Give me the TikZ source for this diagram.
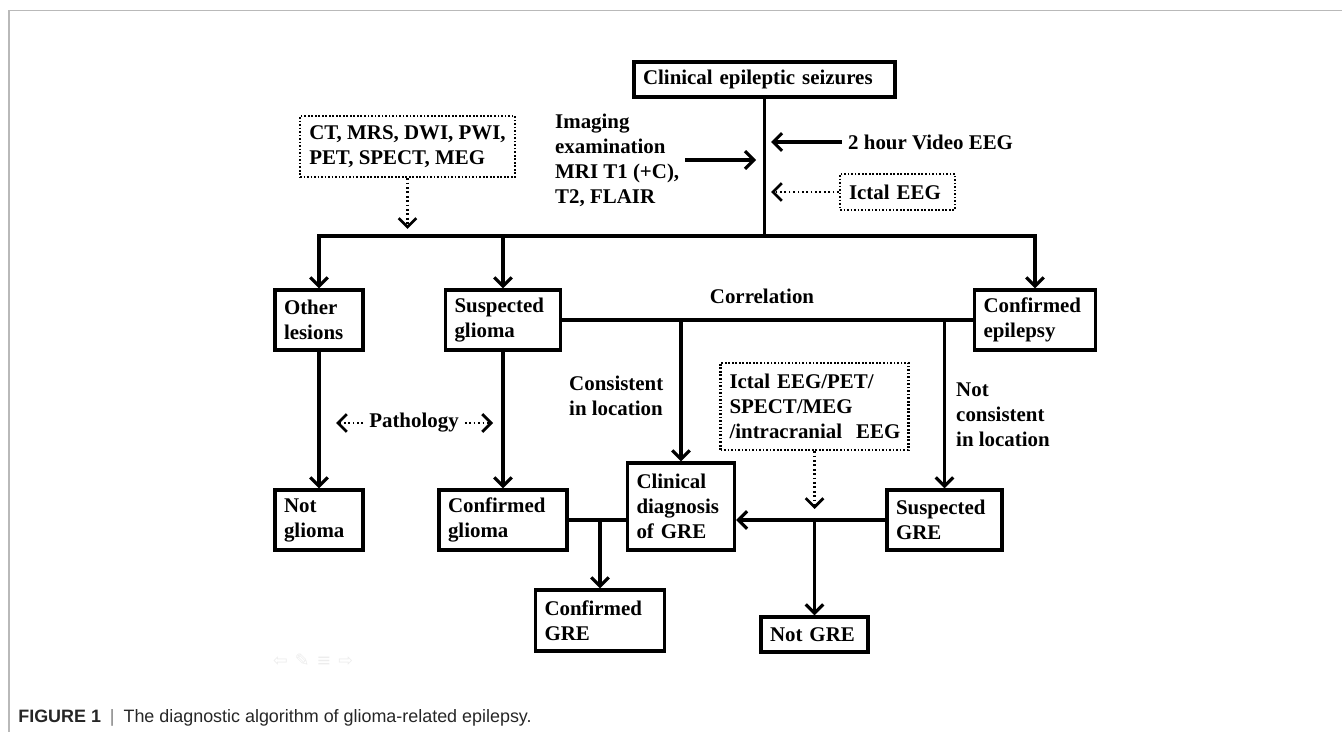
\documentclass[tikz,border=0pt]{standalone}
\usepackage{fontspec}
\usetikzlibrary{arrows.meta}
\newfontfamily\diafont{Liberation Serif}
\newfontfamily\capfont{Liberation Sans}
\newfontfamily\symfont{DejaVu Sans}
\newcommand\diatext{\diafont\bfseries\fontsize{11.9}{14.2}\selectfont}

\begin{document}
\begin{tikzpicture}[x=0.02cm, y=-0.02cm,
    box/.style={draw, line width=1.8pt, align=left, inner xsep=0.18cm, inner ysep=0pt, font=\diatext},
    dotbox/.style={box, line width=1.4pt, dash pattern=on 1pt off 1pt},
    lbl/.style={align=left, font=\diatext},
    link/.style={line width=1.8pt},
    arr/.style={link, -{Straight Barb[length=5pt, width=10pt]}},
    dotarr/.style={arr, line width=1.6pt, dash pattern=on 1pt off 1.5pt}]
    \useasboundingbox (0,0) rectangle (1342,732);
    % panel frame
    \draw[gray!55, line width=1pt] (9,732) -- (9,10.5) -- (1342,10.5);
    % top box and the tests feeding the main line
    \node[box, text width=4.86cm, minimum height=0.70cm] (seiz) at (764.5,79.5) {Clinical epileptic seizures};
    \coordinate (bus) at (764.5,236);
    \coordinate (spine) at (771,0);
    \coordinate (spineL) at (756,0);
    \node[lbl, anchor=west] (imaging) at (549,160) {Imaging\\examination\\MRI T1 (+C),\\T2, FLAIR};
    \node[lbl, anchor=west] (video) at (842,142) {2 hour Video EEG};
    \node[dotbox, text width=1.94cm, minimum height=0.72cm] (ictal) at (897.5,192) {Ictal EEG};
    \node[dotbox, inner xsep=0pt, minimum width=4.30cm, minimum height=1.22cm] (extra) at (407.5,146.5) {CT, MRS, DWI, PWI,\\PET, SPECT, MEG};
    \coordinate (extratip) at (407.5,229);
    \draw[link] (seiz.south) -- (bus);
    \draw[arr] (imaging.east) -- (imaging.east -| spineL);
    \draw[arr] (video.west) -- (video.west -| spine);
    \draw[dotarr] (ictal.west) -- (ictal.west -| spine);
    \draw[dotarr] (extra.south) -- (extratip);
    % second row
    \node[box, text width=1.40cm, minimum height=1.20cm] (other) at (319,320) {Other\\lesions};
    \node[box, text width=1.94cm, minimum height=1.20cm] (susglioma) at (503,320) {Suspected\\glioma};
    \node[box, text width=2.06cm, minimum height=1.20cm] (confepi) at (1035,320) {Confirmed\\epilepsy};
    \draw[arr] (bus) -| (other.north);
    \draw[arr] (bus) -| (susglioma.north);
    \draw[arr] (bus) -| (confepi.north);
    % correlation between imaging and EEG
    \draw[link] (susglioma.east) -- (confepi.west);
    \node[lbl] (corr) at (762,296) {Correlation};
    \node[lbl, anchor=west] (consist) at (563,396) {Consistent\\in location};
    \node[lbl, anchor=west] (notconsist) at (950,415) {Not\\consistent\\in location};
    \node[dotbox, text width=3.40cm, minimum height=1.74cm] (ictal2) at (814.5,406.5) {Ictal EEG/PET/\\SPECT/MEG\\/intracranial~ EEG};
    \coordinate (ictal2tip) at (814.5,509);
    % pathology
    \node[lbl] (patho) at (414,423) {Pathology};
    \coordinate (pathoL) at (336,423);
    \coordinate (pathoR) at (493,423);
    \draw[dotarr] (patho.west) -- (pathoL);
    \draw[dotarr] (patho.east) -- (pathoR);
    % third row
    \node[box, text width=1.40cm, minimum height=1.20cm] (notglioma) at (319,520) {Not\\glioma};
    \node[box, text width=2.20cm, minimum height=1.20cm] (confglioma) at (503,520) {Confirmed\\glioma};
    \node[box, text width=1.78cm, minimum height=1.74cm] (clindx) at (681,506.5) {Clinical\\diagnosis\\of GRE};
    \node[box, text width=1.94cm, minimum height=1.20cm] (susgre) at (944.5,520) {Suspected\\GRE};
    \draw[arr] (other.south) -- (notglioma.north);
    \draw[arr] (susglioma.south) -- (confglioma.north);
    \draw[arr] (susglioma.east -| clindx.north) -- (clindx.north);
    \draw[arr] (susglioma.east -| susgre.north) -- (susgre.north);
    \draw[dotarr] (ictal2.south) -- (ictal2tip);
    % bottom row
    \node[box, text width=2.22cm, minimum height=1.22cm] (confgre) at (600,620.5) {Confirmed\\GRE};
    \node[box, text width=1.78cm, minimum height=0.70cm] (notgre) at (814.5,634.5) {Not GRE};
    \draw[link] (confglioma.east) -- (confglioma.east -| clindx.west);
    \draw[arr] (confglioma.east -| confgre.north) -- (confgre.north);
    \draw[arr] (susgre.west) -- (susgre.west -| clindx.east);
    \draw[arr] (susgre.west -| notgre.north) -- (notgre.north);
    % faint slide toolbar
    \node[font=\symfont\fontsize{10}{10}\selectfont, text=gray!14] (toolbar) at (313,660) {⇦\hspace{4pt}✎\hspace{4pt}≡\hspace{4pt}⇨};
    % caption
    \node[anchor=west, inner sep=0pt, text=black!85, font=\capfont\fontsize{10.2}{12}\selectfont] (caption) at (18,718) {{\bfseries FIGURE 1}\enspace{\color{gray}|}\enspace The diagnostic algorithm of glioma-related epilepsy.};
\end{tikzpicture}
\end{document}
